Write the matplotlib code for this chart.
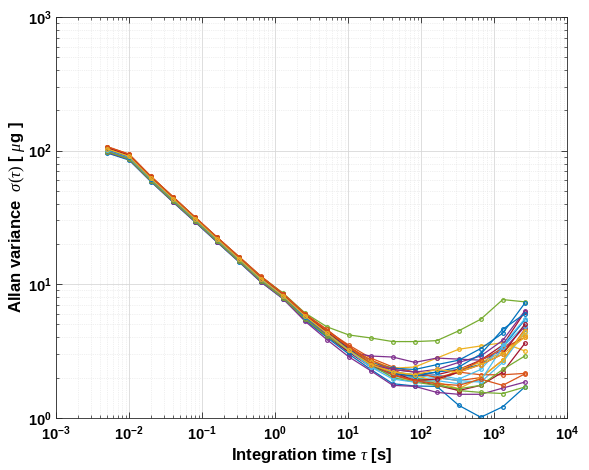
import numpy as np
import matplotlib
matplotlib.use("Agg")
import matplotlib.pyplot as plt
from matplotlib.ticker import FixedLocator, FuncFormatter, NullFormatter

plt.rcParams['font.family'] = ['Liberation Sans', 'DejaVu Sans']
plt.rcParams['mathtext.fontset'] = 'custom'
plt.rcParams['mathtext.rm'] = 'Liberation Serif'
plt.rcParams['mathtext.it'] = 'Liberation Serif:italic'
plt.rcParams['mathtext.bf'] = 'Liberation Sans:bold'

# integration times (s)
tau = [0.005, 0.01, 0.02, 0.04, 0.08, 0.16, 0.32, 0.64, 1.28, 2.56,
       5.12, 10.24, 20.48, 40.96, 81.92, 163.84, 327.68, 655.36, 1310.72, 2621.44]

# allan deviation per sensor (ug)
s01 = [102, 90, 61.5, 43.5, 30.8, 21.8, 15.5, 11.0, 8.2, 5.7, 4.3, 3.3, 2.6, 2.2, 2.1, 2.2, 2.3, 2.5, 3.4, 5.4]
s02 = [107, 94, 64, 45, 31.8, 22.5, 16.1, 11.5, 8.5, 5.9, 4.5, 3.5, 2.8, 2.4, 2.2, 2.0, 1.9, 2.0, 2.7, 4.6]
s03 = [103, 91, 62, 43.8, 31.0, 22.0, 15.6, 11.1, 8.3, 5.8, 4.4, 3.4, 2.7, 2.35, 2.4, 2.8, 3.26, 3.45, 3.65, 3.17]
s04 = [97, 86, 59, 41.5, 29.5, 20.8, 14.8, 10.5, 7.9, 5.5, 4.1, 3.1, 2.9, 2.85, 2.6, 2.8, 2.75, 2.7, 3.2, 4.8]
s05 = [106, 93, 63.5, 44.8, 31.6, 22.4, 16.0, 11.4, 8.6, 6.1, 4.8, 4.17, 3.96, 3.72, 3.72, 3.78, 4.48, 5.47, 7.67, 7.38]
s06 = [101, 89, 61, 43.2, 30.6, 21.6, 15.4, 10.9, 8.1, 5.6, 4.2, 3.2, 2.5, 2.0, 1.95, 2.0, 1.9, 1.85, 2.6, 4.4]
s07 = [98, 87, 59.5, 42, 29.8, 21.0, 15.0, 10.6, 7.9, 5.5, 4.1, 3.1, 2.4, 2.1, 2.05, 2.1, 2.3, 2.7, 3.5, 6.2]
s08 = [96, 85, 58.5, 41.2, 29.3, 20.7, 14.7, 10.4, 7.8, 5.4, 4.0, 3.0, 2.3, 1.8, 1.73, 1.72, 1.24, 1.01, 1.21, 1.7]
s09 = [106, 93, 63.5, 44.7, 31.5, 22.3, 15.9, 11.3, 8.5, 6.0, 4.6, 3.4, 2.6, 2.3, 1.95, 1.9, 2.2, 2.1, 2.1, 2.15]
s10 = [102, 90, 61.5, 43.4, 30.7, 21.7, 15.5, 11.0, 8.2, 5.8, 4.3, 3.2, 2.5, 2.1, 1.85, 1.9, 2.3, 2.6, 3.1, 4.2]
s11 = [97, 86, 58.8, 41.4, 29.4, 20.8, 14.8, 10.4, 7.8, 5.3, 3.85, 2.86, 2.25, 1.75, 1.72, 1.55, 1.5, 1.5, 1.67, 1.85]
s12 = [101, 89, 61, 43.1, 30.6, 21.6, 15.4, 10.9, 8.2, 5.7, 4.3, 3.3, 2.5, 2.1, 2.0, 1.8, 1.6, 1.55, 1.52, 1.7]
s13 = [100, 88, 60.5, 42.8, 30.3, 21.4, 15.3, 10.8, 8.1, 5.6, 4.2, 3.2, 2.4, 2.1, 2.0, 2.1, 1.95, 2.3, 3.5, 5.5]
s14 = [105, 93, 63, 44.5, 31.4, 22.2, 15.8, 11.3, 8.4, 5.9, 4.5, 3.4, 2.6, 2.2, 1.9, 1.75, 1.6, 1.75, 2.2, 3.6]
s15 = [102, 90, 61.3, 43.3, 30.7, 21.7, 15.5, 11.0, 8.2, 5.7, 4.3, 3.3, 2.6, 2.35, 2.3, 2.5, 2.7, 3.3, 4.3, 7.2]
s16 = [106, 93, 63.8, 44.9, 31.7, 22.4, 16.0, 11.4, 8.5, 6.0, 4.5, 3.4, 2.7, 2.3, 2.2, 2.0, 2.2, 2.7, 3.3, 4.0]
s17 = [103, 91, 62, 43.7, 30.9, 21.9, 15.6, 11.1, 8.3, 5.8, 4.4, 3.3, 2.6, 2.2, 2.1, 1.85, 1.65, 2.0, 2.7, 4.5]
s18 = [100, 88, 60.5, 42.7, 30.3, 21.4, 15.2, 10.8, 8.0, 5.6, 4.2, 3.2, 2.5, 2.3, 2.2, 2.3, 2.6, 2.9, 3.8, 6.3]
s19 = [98, 86.5, 59.2, 41.8, 29.7, 21.0, 14.9, 10.6, 7.9, 5.5, 4.1, 3.2, 2.5, 2.0, 1.85, 1.75, 1.65, 1.75, 2.3, 2.9]
s20 = [101, 89, 61, 43.2, 30.6, 21.6, 15.4, 10.9, 8.2, 5.7, 4.3, 3.2, 2.4, 1.95, 1.85, 1.9, 1.8, 1.9, 3.4, 4.9]
s21 = [105, 92.5, 63, 44.4, 31.4, 22.2, 15.8, 11.2, 8.4, 5.9, 4.4, 3.3, 2.5, 2.1, 1.9, 1.95, 2.2, 2.5, 3.0, 5.0]
s22 = [102, 90, 61.4, 43.4, 30.7, 21.7, 15.5, 11.0, 8.2, 5.7, 4.3, 3.25, 2.5, 2.15, 2.05, 2.2, 2.4, 3.0, 4.6, 6.0]
s23 = [107, 94, 64, 45.1, 31.8, 22.5, 16.0, 11.4, 8.5, 6.0, 4.5, 3.4, 2.55, 2.1, 1.9, 1.8, 1.75, 1.95, 1.75, 2.13]
s24 = [103, 90.5, 61.8, 43.6, 30.9, 21.8, 15.5, 11.0, 8.2, 5.8, 4.3, 3.2, 2.5, 2.2, 2.1, 2.3, 2.2, 2.5, 3.0, 4.0]

series = [s01, s02, s03, s04, s05, s06, s07, s08, s09, s10, s11, s12,
          s13, s14, s15, s16, s17, s18, s19, s20, s21, s22, s23, s24]

x_decades = [-3, -2, -1, 0, 1, 2, 3, 4]
y_decades = [0, 1, 2, 3]

matlab_colors = ['#0072BD', '#D95319', '#EDB120', '#7E2F8E', '#77AC30', '#4DBEEE', '#A2142F']

fig = plt.figure(figsize=(5.89, 4.70), dpi=100)
ax = fig.add_axes([0.095, 0.111, 0.868, 0.853])

for i, s in enumerate(series):
    ax.plot(tau, s, '-o', color=matlab_colors[i % 7], lw=0.9, ms=2.6,
            mfc='none', mew=0.9)

ax.set_xscale('log')
ax.set_yscale('log')
ax.set_xlim(1e-3, 1e4)
ax.set_ylim(1e0, 1e3)

xmaj = [10.0 ** d for d in x_decades]
ymaj = [10.0 ** d for d in y_decades]
xmin = [m * 10.0 ** d for d in x_decades[:-1] for m in range(2, 10)]
ymin = [m * 10.0 ** d for d in y_decades[:-1] for m in range(2, 10)]
ax.xaxis.set_major_locator(FixedLocator(xmaj))
ax.yaxis.set_major_locator(FixedLocator(ymaj))
ax.xaxis.set_minor_locator(FixedLocator(xmin))
ax.yaxis.set_minor_locator(FixedLocator(ymin))
fmt = FuncFormatter(lambda v, p: r'$\mathbf{10^{%d}}$' % int(round(np.log10(v))))
ax.xaxis.set_major_formatter(fmt)
ax.yaxis.set_major_formatter(fmt)
ax.xaxis.set_minor_formatter(NullFormatter())
ax.yaxis.set_minor_formatter(NullFormatter())

ax.tick_params(which='both', direction='in', top=True, right=True, color='#262626')
ax.tick_params(which='major', length=4, width=0.6, labelsize=10.5)
ax.tick_params(axis='y', which='major', pad=3)
ax.tick_params(axis='x', which='major', pad=5)
ax.tick_params(which='minor', length=2, width=0.5)

ax.grid(True, which='major', color='#d8d8d8', lw=0.6)
ax.grid(True, which='minor', color='#e2e2e2', lw=0.5, ls=':')
ax.set_axisbelow(True)
for sp in ax.spines.values():
    sp.set_color('#262626')
    sp.set_linewidth(0.6)

ax.set_xlabel(r'Integration time $\tau$ [s]', fontsize=12, fontweight='bold', labelpad=2)
ax.set_ylabel(r'Allan variance  $\sigma(\tau)$ [ $\mu$g ]', fontsize=12, fontweight='bold')
ax.yaxis.set_label_coords(-0.057, 0.5)

fig.savefig('out.png', dpi=100)
